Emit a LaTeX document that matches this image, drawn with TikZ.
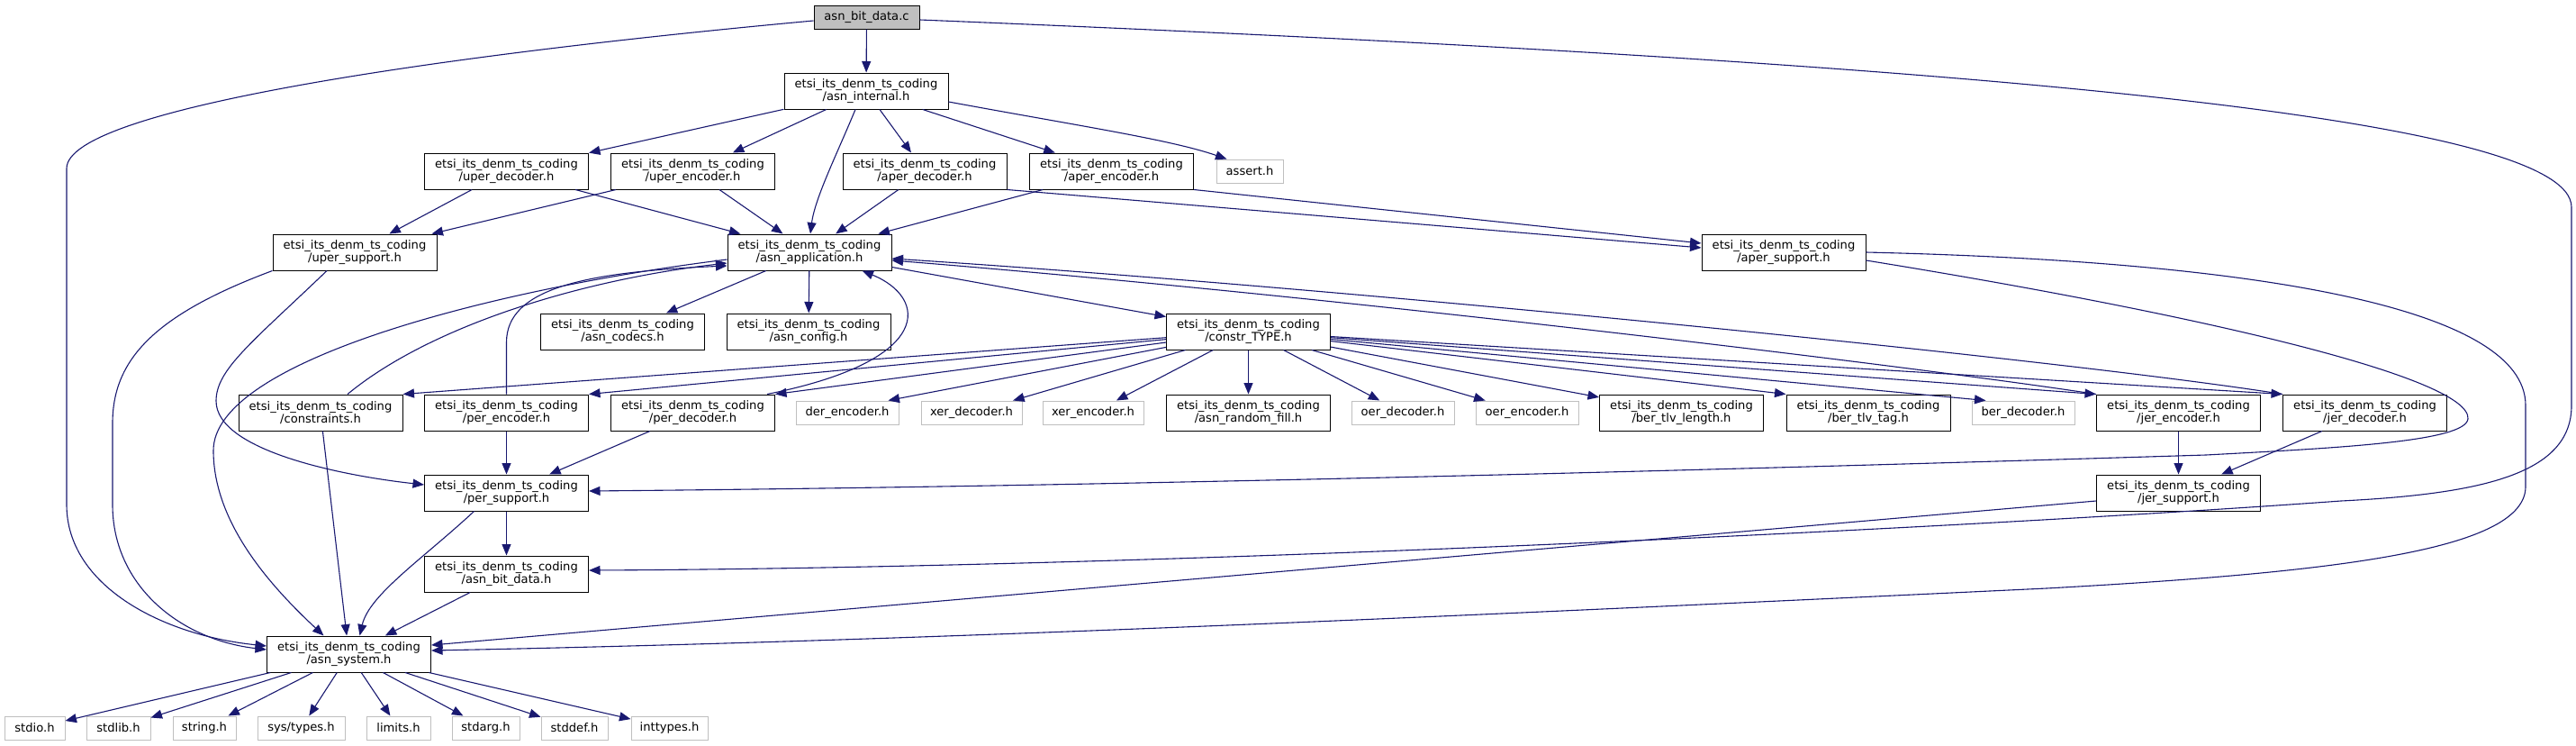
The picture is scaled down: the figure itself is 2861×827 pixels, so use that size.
\documentclass[tikz,border=0pt]{standalone}
\usepackage{fontspec}
\setmainfont{DejaVu Sans}
\usetikzlibrary{arrows.meta,calc}
\definecolor{edgeblue}{HTML}{191970}
\definecolor{greyline}{HTML}{BFBFBF}
\newcommand{\etsi}[1]{etsi\_its\_denm\_ts\_coding\\/#1}
\begin{document}
\begin{tikzpicture}[x=1pt,y=-1pt,
  basebox/.style={inner sep=0pt, align=center, font=\fontsize{13.1}{14.5}\selectfont},
  etsi/.style={basebox, draw=black, fill=white, line width=1pt, minimum width=182pt, minimum height=40pt},
  ext/.style={basebox, draw=greyline, fill=white, line width=1pt, minimum height=26pt},
  mainbox/.style={basebox, draw=black, fill=greyline, line width=1pt, minimum width=117pt, minimum height=26pt},
  edge/.style={draw=edgeblue, line width=1.1pt, -{Triangle[length=12.5pt,width=10pt]}}]
\useasboundingbox (0,0) rectangle (2861,827);
% nodes
\node[mainbox] (bitc) at (962.5,19) {asn\_bit\_data.c};
\node[etsi] (internal) at (962,101) {\etsi{asn\_internal.h}};
\node[etsi] (uperd) at (562.5,190) {\etsi{uper\_decoder.h}};
\node[etsi] (upere) at (769.5,190) {\etsi{uper\_encoder.h}};
\node[etsi] (aperd) at (1027,190) {\etsi{aper\_decoder.h}};
\node[etsi] (apere) at (1234.5,190) {\etsi{aper\_encoder.h}};
\node[ext, minimum width=74pt] (assert) at (1388,190) {assert.h};
\node[etsi] (upers) at (394,280) {\etsi{uper\_support.h}};
\node[etsi] (app) at (899,280) {\etsi{asn\_application.h}};
\node[etsi] (apers) at (1981,280) {\etsi{aper\_support.h}};
\node[etsi] (codecs) at (691.5,368) {\etsi{asn\_codecs.h}};
\node[etsi] (config) at (898,368) {\etsi{asn\_config.h}};
\node[etsi] (constr) at (1386.5,368) {\etsi{constr\_TYPE.h}};
\node[etsi] (constraints) at (356,458) {\etsi{constraints.h}};
\node[etsi] (pere) at (562.5,458) {\etsi{per\_encoder.h}};
\node[etsi] (perd) at (769.5,458) {\etsi{per\_decoder.h}};
\node[ext, minimum width=114pt] (dere) at (941,458) {der\_encoder.h};
\node[ext, minimum width=112pt] (xerd) at (1079,458) {xer\_decoder.h};
\node[ext, minimum width=112pt] (xere) at (1214,458) {xer\_encoder.h};
\node[etsi] (rfill) at (1386.5,458) {\etsi{asn\_random\_fill.h}};
\node[ext, minimum width=114pt] (oerd) at (1558,458) {oer\_decoder.h};
\node[ext, minimum width=114pt] (oere) at (1696,458) {oer\_encoder.h};
\node[etsi] (berlen) at (1867.5,458) {\etsi{ber\_tlv\_length.h}};
\node[etsi] (bertag) at (2075,458) {\etsi{ber\_tlv\_tag.h}};
\node[ext, minimum width=114pt] (berd) at (2247,458) {ber\_decoder.h};
\node[etsi] (jere) at (2419.5,458) {\etsi{jer\_encoder.h}};
\node[etsi] (jerd) at (2626.5,458) {\etsi{jer\_decoder.h}};
\node[etsi] (pers) at (562.5,547) {\etsi{per\_support.h}};
\node[etsi] (jers) at (2419.5,547) {\etsi{jer\_support.h}};
\node[etsi] (bitdata) at (562.5,637) {\etsi{asn\_bit\_data.h}};
\node[etsi] (sys) at (387.5,726) {\etsi{asn\_system.h}};
\node[ext, minimum width=67pt] (stdio) at (38.5,808) {stdio.h};
\node[ext, minimum width=71pt] (stdlib) at (131.5,808) {stdlib.h};
\node[ext, minimum width=70pt] (string) at (227,808) {string.h};
\node[ext, minimum width=97pt] (systypes) at (334.5,808) {sys/types.h};
\node[ext, minimum width=71pt] (limits) at (442.5,808) {limits.h};
\node[ext, minimum width=75pt] (stdarg) at (539.5,808) {stdarg.h};
\node[ext, minimum width=74pt] (stddef) at (638,808) {stddef.h};
\node[ext, minimum width=85pt] (inttypes) at (743.5,808) {inttypes.h};
% edges from asn_bit_data.c
\draw[edge] (bitc) -- (internal);
\draw[edge] ($(bitc.west)+(0,4)$) .. controls (500,60) and (74,120) .. (74,187) -- (74,560) .. controls (74,650) and (180,705) .. ($(sys.west)+(0,-9)$);
\draw[edge] ($(bitc.east)+(0,3)$) .. controls (2200,70) and (2856,130) .. (2856,230) -- (2856,450) .. controls (2856,525) and (2760,548) .. (2600,556) .. controls (2200,585) and (1300,630) .. ($(bitdata.east)+(0,-4)$);
% asn_internal.h
\draw[edge] (internal) -- (uperd);
\draw[edge] (internal) -- (upere);
\draw[edge] ($(internal.south)+(-12,0)$) .. controls (930,170) and (905,220) .. ($(app.north)+(1,0)$);
\draw[edge] (internal) -- (aperd);
\draw[edge] (internal) -- (apere);
\draw[edge] ($(internal.east)+(0,12)$) .. controls (1200,140) and (1300,155) .. ($(assert.north west)+(12,0)$);
% uper / aper
\draw[edge] (uperd) -- (upers);
\draw[edge] (uperd) -- (app);
\draw[edge] (upere) -- (upers);
\draw[edge] (upere) -- (app);
\draw[edge] (aperd) -- (app);
\draw[edge] (aperd.south east) -- ($(apers.west)+(0,-5)$);
\draw[edge] (apere) -- (app);
\draw[edge] (apere.south east) -- ($(apers.west)+(0,-10)$);
% uper_support.h
\draw[edge] (upers.south west) .. controls (170,350) and (125,400) .. (125,470) -- (125,560) .. controls (125,650) and (200,710) .. ($(sys.west)+(0,-5)$);
\draw[edge] ($(upers.south)+(-31,0)$) .. controls (280,380) and (240,410) .. (240,445) .. controls (240,500) and (380,528) .. ($(pers.west)+(0,-9)$);
% asn_application.h
\draw[edge] (app) -- (codecs);
\draw[edge] (app) -- (config);
\draw[edge] (app) -- (constr);
\draw[edge] ($(app.west)+(0,8)$) .. controls (550,320) and (237,400) .. (237,500) .. controls (237,580) and (300,650) .. ($(sys.north)+(-28,0)$);
\draw[edge] ($(constraints.north)+(30,0)$) .. controls (480,360) and (650,310) .. ($(app.west)+(0,12)$);
\draw[edge] (pere.north) -- (562.5,380) .. controls (562.5,320) and (650,302) .. ($(app.west)+(0,15)$);
\draw[edge] ($(perd.north east)+(-9,0)$) .. controls (1040,400) and (1030,330) .. ($(app.south east)+(-33,0)$);
\draw[edge] (jere.north west) .. controls (2150,410) and (1500,330) .. ($(app.east)+(0,9)$);
\draw[edge] (jerd.north west) .. controls (2300,400) and (1500,320) .. ($(app.east)+(0,7)$);
% constr_TYPE.h
\draw[edge] (constr) -- (constraints.north east);
\draw[edge] (constr) -- (pere.north east);
\draw[edge] (constr) -- (perd.north east);
\draw[edge] (constr) -- ($(dere.north east)+(-12,0)$);
\draw[edge] (constr) -- (xerd);
\draw[edge] (constr) -- (xere);
\draw[edge] (constr) -- (rfill);
\draw[edge] (constr) -- (oerd);
\draw[edge] (constr) -- (oere);
\draw[edge] (constr) -- (berlen);
\draw[edge] (constr) -- (bertag.north west);
\draw[edge] (constr) -- ($(berd.north west)+(16,0)$);
\draw[edge] (constr) -- (jere.north west);
\draw[edge] (constr) -- (jerd.north west);
% per / jer
\draw[edge] (pere) -- (pers);
\draw[edge] (perd) -- (pers);
\draw[edge] (pers) -- (bitdata);
\draw[edge] ($(pers.south)+(-36,0)$) .. controls (470,620) and (410,660) .. ($(sys.north)+(12,0)$);
\draw[edge] (bitdata) -- (sys);
\draw[edge] (constraints) -- (sys);
\draw[edge] (jere) -- (jers);
\draw[edge] (jerd) -- (jers);
\draw[edge] ($(jers.west)+(0,9)$) -- ($(sys.east)+(0,-10)$);
% aper_support.h
\draw[edge] (apers.east) .. controls (2500,290) and (2805,340) .. (2805,450) -- (2805,540) .. controls (2805,610) and (2600,635) .. (2273,653) .. controls (1600,685) and (1000,712) .. ($(sys.east)+(0,-4)$);
\draw[edge] ($(apers.east)+(0,9)$) .. controls (2450,350) and (2745,420) .. (2741,465) .. controls (2738,490) and (2600,497) .. (2450,505) .. controls (1800,525) and (1200,540) .. ($(pers.east)+(0,-2)$);
% asn_system.h
\draw[edge] (sys) -- (stdio);
\draw[edge] (sys) -- (stdlib);
\draw[edge] (sys) -- (string);
\draw[edge] (sys) -- (systypes);
\draw[edge] (sys) -- (limits);
\draw[edge] (sys) -- (stdarg);
\draw[edge] (sys) -- (stddef);
\draw[edge] (sys) -- (inttypes);
\end{tikzpicture}
\end{document}
